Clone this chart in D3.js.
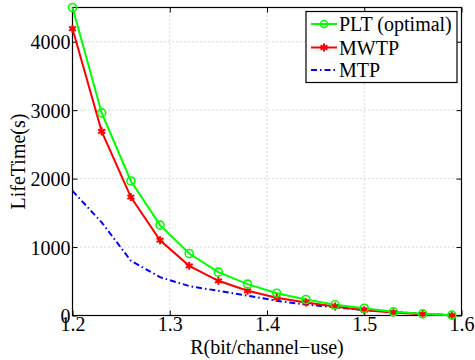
<!DOCTYPE html>
<html>
<head>
<meta charset="utf-8">
<script src="https://cdn.jsdelivr.net/npm/d3@7"></script>
<style>
  body { margin: 0; background: #fff; }
  text { font-family: "Liberation Serif", "Times New Roman", serif; fill: #000; }
</style>
</head>
<body>
<svg id="chart" width="475" height="360"></svg>
<script>
// data
var rate = [1.20, 1.23, 1.26, 1.29, 1.32, 1.35, 1.38, 1.41, 1.44, 1.47, 1.50, 1.53, 1.56, 1.59];
var pltOptimal = [4500, 2960, 1965, 1320, 906, 633, 458, 326, 234, 156, 107, 54, 25, 5];
var mwtp = [4190, 2690, 1730, 1100, 726, 507, 361, 259, 190, 131, 78, 44, 20, 3];
var mtp = [1820, 1360, 800, 560, 430, 360, 290, 215, 160, 120, 83, 51, 25, 4];
var xTicks = [1.2, 1.3, 1.4, 1.5, 1.6];
var yTicks = [0, 1000, 2000, 3000, 4000];

var svg = d3.select("#chart");
// plot box (window.top is reserved, so use other names)
var plotL = 72.5, plotR = 461.5, plotT = 7.5, plotB = 315.5;

var x = d3.scaleLinear().domain([1.2, 1.6]).range([plotL, plotR]);
var y = d3.scaleLinear().domain([0, 4500]).range([plotB, plotT]);

// grid (dotted, like matlab "grid on")
var grid = svg.append("g").attr("stroke", "#b0b0b0").attr("stroke-dasharray", "1,3").attr("stroke-width", 1);
grid.selectAll(".gx").data(xTicks.slice(1, -1)).enter().append("line")
  .attr("x1", d => x(d)).attr("x2", d => x(d)).attr("y1", plotT).attr("y2", plotB);
grid.selectAll(".gy").data(yTicks.slice(1)).enter().append("line")
  .attr("x1", plotL).attr("x2", plotR).attr("y1", d => y(d)).attr("y2", d => y(d));

// axes with inward ticks
var fs = 20;
var xAxis = svg.append("g").attr("transform", "translate(0," + plotB + ")")
  .call(d3.axisBottom(x).tickValues(xTicks).tickSize(-5).tickPadding(1).tickFormat(d3.format(".1f")));
var xTop = svg.append("g").attr("transform", "translate(0," + plotT + ")")
  .call(d3.axisTop(x).tickValues(xTicks).tickSize(-5).tickFormat(""));
var yAxis = svg.append("g").attr("transform", "translate(" + plotL + ",0)")
  .call(d3.axisLeft(y).tickValues(yTicks).tickSize(-5).tickPadding(2).tickFormat(d3.format("d")));
var yRight = svg.append("g").attr("transform", "translate(" + plotR + ",0)")
  .call(d3.axisRight(y).tickValues(yTicks).tickSize(-5).tickFormat(""));

[xAxis, xTop, yAxis, yRight].forEach(function (g) {
  g.select(".domain").remove();
  g.selectAll("line").attr("stroke", "#000");
  g.selectAll("text").attr("font-family", "Liberation Serif").attr("font-size", fs).attr("fill", "#000");
});
yAxis.selectAll("text").attr("dy", "0.35em");
xAxis.selectAll("text").attr("dy", "0.72em");

// frame
svg.append("rect").attr("x", plotL).attr("y", plotT).attr("width", plotR - plotL).attr("height", plotB - plotT)
  .attr("fill", "none").attr("stroke", "#000").attr("stroke-width", 1.2);

// series
var line = d3.line().x((d, i) => x(rate[i])).y(d => y(d));

svg.append("path").datum(mtp).attr("d", line)
  .attr("fill", "none").attr("stroke", "#0000ff").attr("stroke-width", 2).attr("stroke-dasharray", "6,3,1.5,3");

svg.append("path").datum(mwtp).attr("d", line)
  .attr("fill", "none").attr("stroke", "#ff0000").attr("stroke-width", 2);
svg.append("path").datum(pltOptimal).attr("d", line)
  .attr("fill", "none").attr("stroke", "#00ff00").attr("stroke-width", 2);

var star = d3.symbol().type(d3.symbolAsterisk).size(45);
svg.append("g").selectAll("path").data(mwtp).enter().append("path")
  .attr("d", star).attr("transform", (d, i) => "translate(" + x(rate[i]) + "," + y(d) + ")")
  .attr("fill", "none").attr("stroke", "#ff0000").attr("stroke-width", 2);

svg.append("g").selectAll("circle").data(pltOptimal).enter().append("circle")
  .attr("cx", (d, i) => x(rate[i])).attr("cy", d => y(d)).attr("r", 4)
  .attr("fill", "none").attr("stroke", "#00ff00").attr("stroke-width", 1.6);

// axis labels
svg.append("text").attr("x", (plotL + plotR) / 2).attr("y", 354).attr("text-anchor", "middle")
  .attr("font-size", fs).text("R(bit/channel\u2212use)");
svg.append("text").attr("transform", "translate(25," + ((plotT + plotB) / 2) + ") rotate(-90)")
  .attr("text-anchor", "middle").attr("font-size", fs).text("LifeTime(s)");

// legend
var legend = svg.append("g");
legend.append("rect").attr("x", 306).attr("y", 11.5).attr("width", 151).attr("height", 71)
  .attr("fill", "#fff").attr("stroke", "#000").attr("stroke-width", 1.2);
var names = ["PLT (optimal)", "MWTP", "MTP"];
var colors = ["#00ff00", "#ff0000", "#0000ff"];
var rowY = [24, 47.5, 70];
names.forEach(function (n, i) {
  var g = legend.append("g");
  g.append("line").attr("x1", 311).attr("x2", 337).attr("y1", rowY[i]).attr("y2", rowY[i])
    .attr("stroke", colors[i]).attr("stroke-width", 2)
    .attr("stroke-dasharray", i === 2 ? "6,3,1.5,3" : null);
  if (i === 0) g.append("circle").attr("cx", 324).attr("cy", rowY[i]).attr("r", 3.5)
    .attr("fill", "none").attr("stroke", colors[i]).attr("stroke-width", 1.6);
  if (i === 1) g.append("path").attr("d", star).attr("transform", "translate(324," + rowY[i] + ")")
    .attr("fill", "none").attr("stroke", colors[i]).attr("stroke-width", 2);
  g.append("text").attr("x", 339).attr("y", rowY[i]).attr("dy", "0.35em").attr("font-size", fs).text(n);
});
</script>
</body>
</html>
